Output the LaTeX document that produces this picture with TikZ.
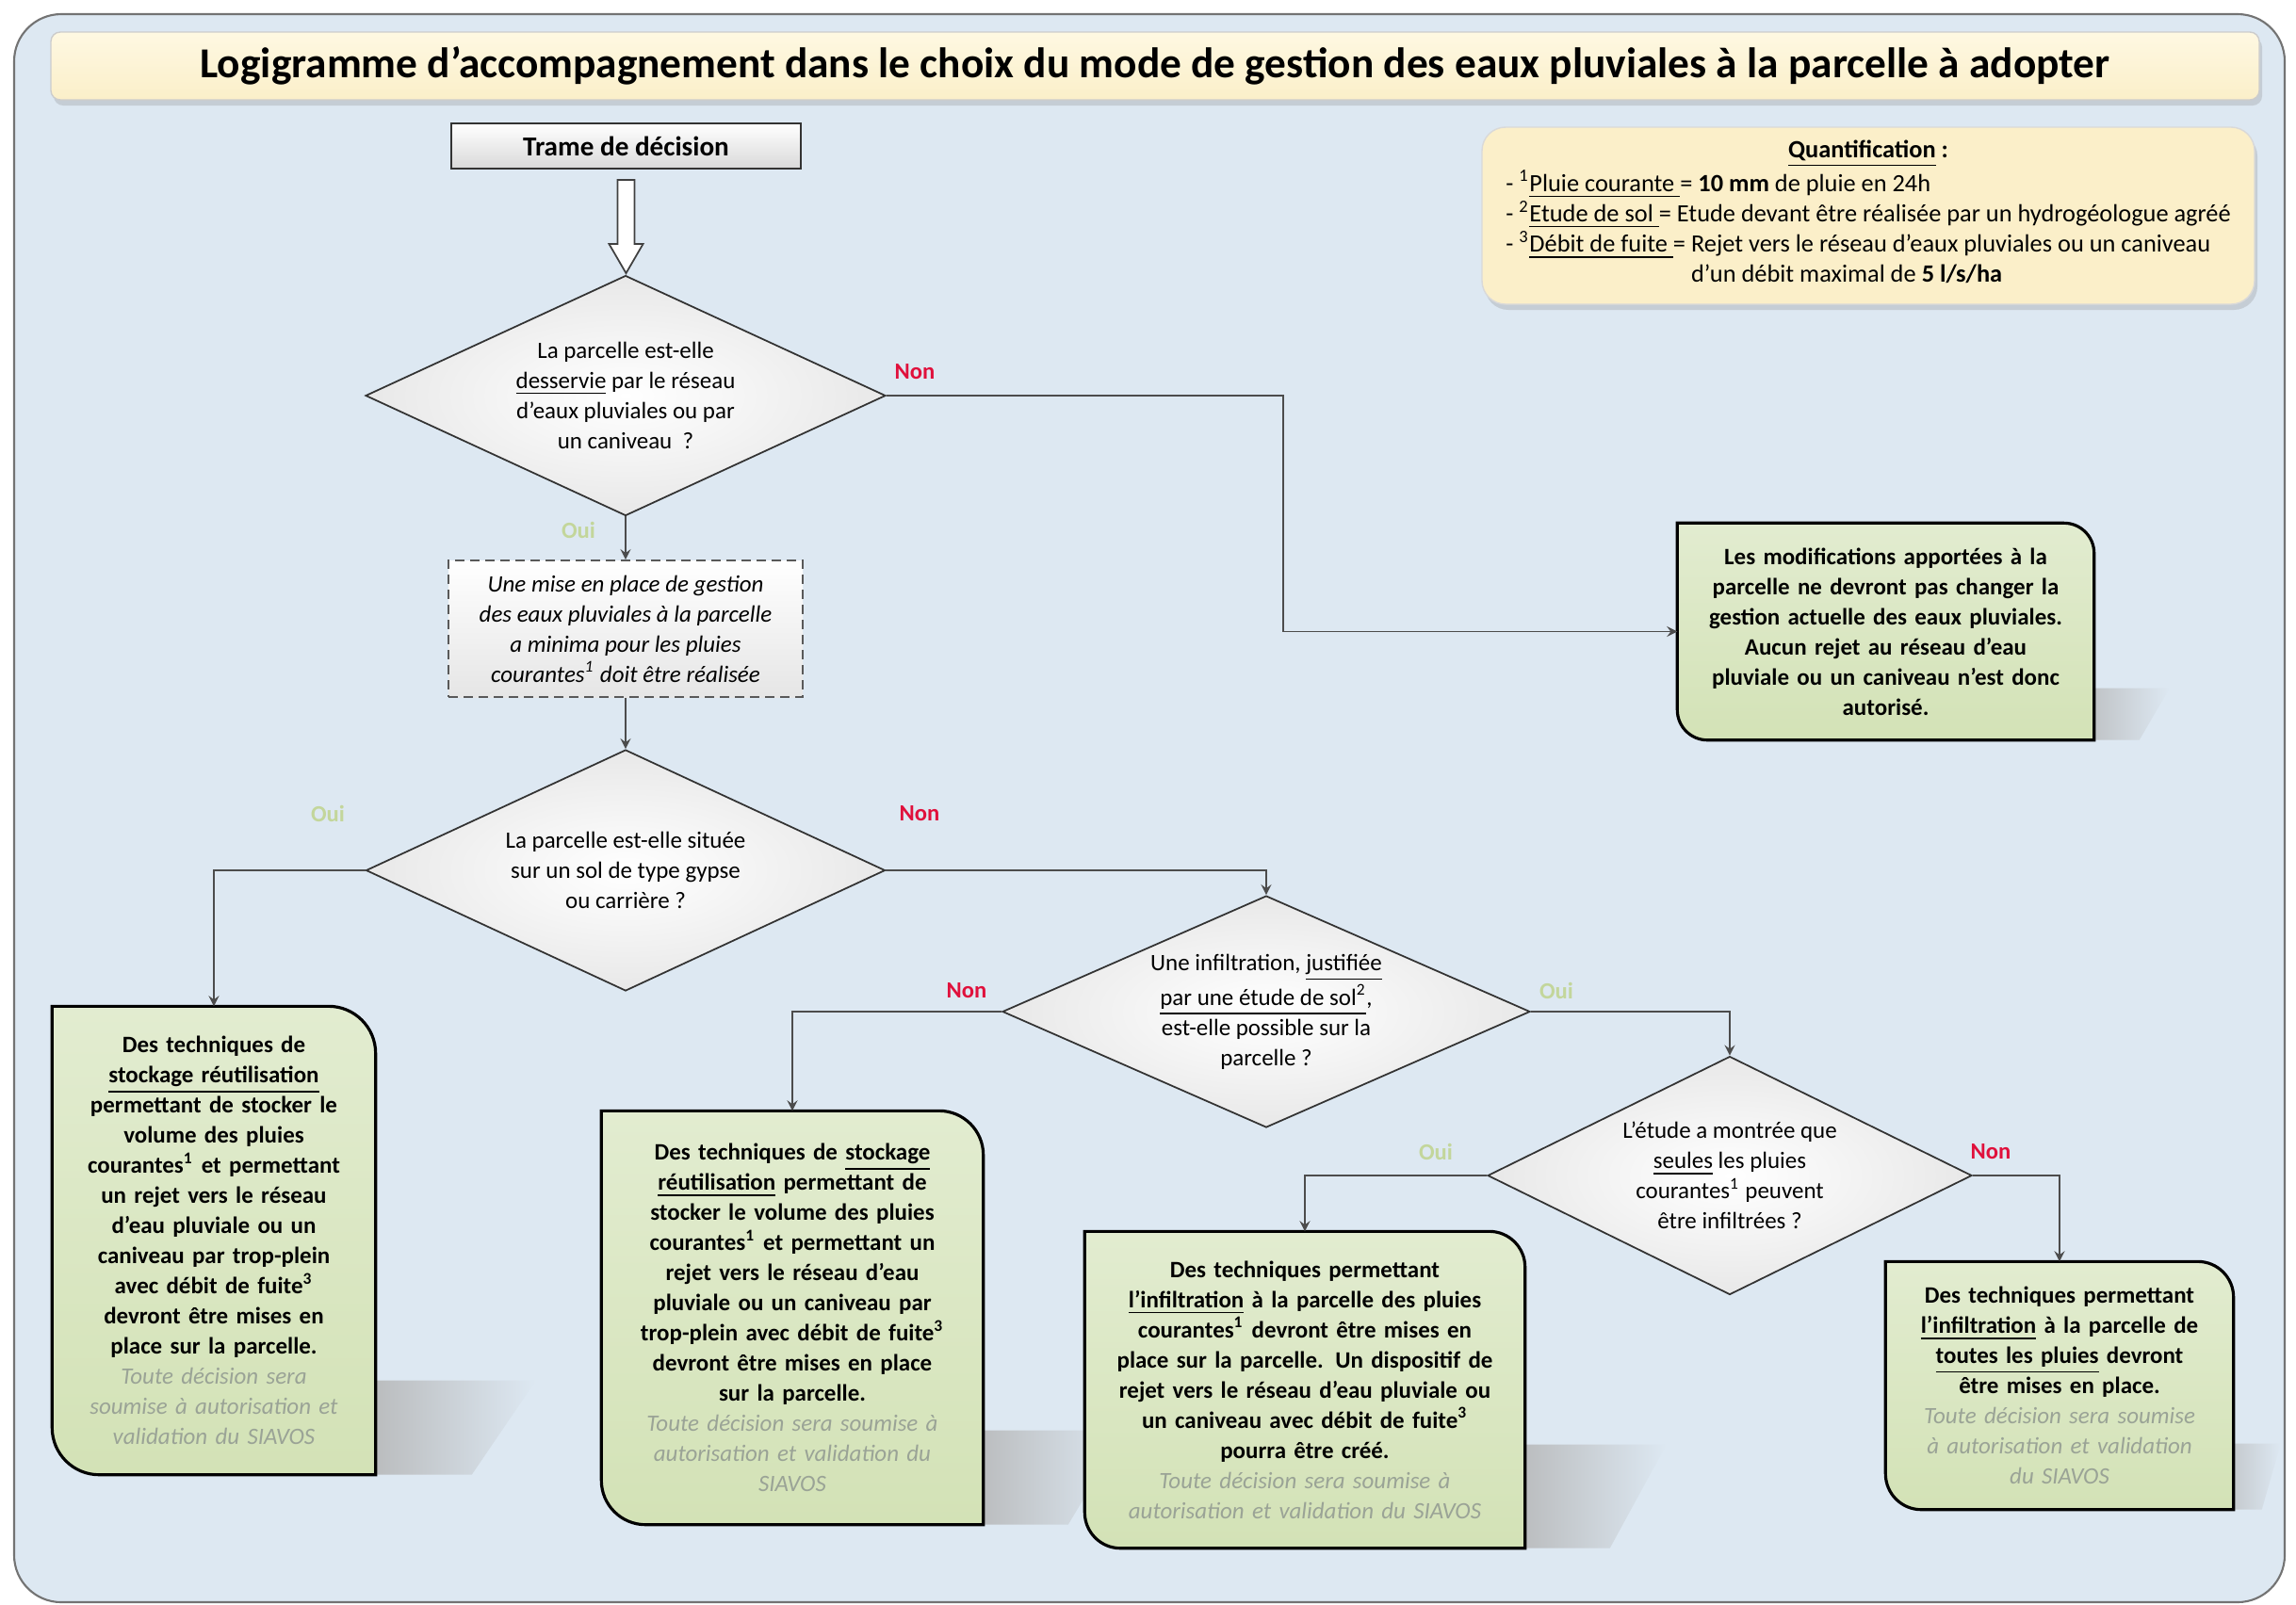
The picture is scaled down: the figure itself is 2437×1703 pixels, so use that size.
\documentclass[tikz,border=0pt]{standalone}
\usepackage{fontspec}
\setmainfont{Carlito}
\usetikzlibrary{shapes.geometric,shadows}
\pgfdeclarelayer{bg}
\pgfsetlayers{bg,main}
\definecolor{fond}{HTML}{DDE8F2}
\definecolor{jaune}{HTML}{FBEFC9}
\definecolor{jauneclair}{HTML}{FEF8E2}
\definecolor{vert}{HTML}{D3E2B6}
\definecolor{vertclair}{HTML}{E2ECD0}
\definecolor{ouivert}{HTML}{C3D69B}
\definecolor{nonrouge}{HTML}{E0103C}
\definecolor{grisvert}{HTML}{9AA396}
\newcommand\expo[1]{\textsuperscript{#1}}
\newcommand\avis{\color{grisvert}\mdseries\itshape}

\begin{document}
\begin{tikzpicture}[x=0.1mm,y=-0.1mm,>=stealth,
    losange/.style={diamond,draw=black!80,line width=.5pt,inner sep=0pt,aspect=2,align=center,
      font=\fontsize{7.1}{9.1}\selectfont,inner color=white,outer color=black!9},
    vertbox/.style={align=center,inner sep=0pt,font=\fontsize{7.1}{9.1}\selectfont\bfseries},
    lien/.style={->,draw=black!70,line width=.4pt},
    non/.style={font=\fontsize{7}{8}\selectfont\bfseries,text=nonrouge},
    oui/.style={font=\fontsize{7}{8}\selectfont\bfseries,text=ouivert},
    cadre/.style={draw=black,line width=.9pt,top color=vertclair,bottom color=vert},
    ombre/.style={drop shadow={shadow xshift=.3mm,shadow yshift=-.6mm,opacity=.25}}]
  \useasboundingbox (0,0) rectangle (2437,1703);
  \begin{pgfonlayer}{bg}
    \fill[white] (0,0) rectangle (2437,1703);
    \draw[fill=fond,draw=black!55,line width=.6pt,rounded corners=5mm] (15,15) rectangle (2425,1701);
  \end{pgfonlayer}

  % en-tete
  \node[font=\fontsize{12.9}{15}\selectfont\bfseries,minimum width=234.4mm,minimum height=7.2mm,
    rounded corners=1mm,draw=black!20,top color=jauneclair,bottom color=jaune,ombre] (titre) at (1226,70)
    {Logigramme d’accompagnement dans le choix du mode de gestion des eaux pluviales à la parcelle à adopter};
  \node[font=\fontsize{8.3}{10}\selectfont\bfseries,draw=black!80,line width=.6pt,minimum width=37.1mm,
    minimum height=4.8mm,top color=white,bottom color=black!15] (trame) at (664.5,155) {Trame de décision};
  \node[font=\fontsize{7.5}{9}\selectfont,align=center,minimum width=82mm,minimum height=18.8mm,
    rounded corners=2.5mm,fill=jaune,draw=black!15,ombre] (quantif) at (1983,229)
    {\textbf{\underline{Quantification} :}\\
     \begin{tabular}{@{}l@{}}
     - \expo{1}\underline{Pluie courante }= \textbf{10 mm} de pluie en 24h\\
     - \expo{2}\underline{Etude de sol }= Etude devant être réalisée par un hydrogéologue agréé\\
     - \expo{3}\underline{Débit de fuite }= Rejet vers le réseau d’eaux pluviales ou un caniveau\\
     \phantom{- \expo{3}Débit de fuite = }d’un débit maximal de \textbf{5 l/s/ha}
     \end{tabular}};
  \draw[fill=white,draw=black!75,line width=.5pt] (trame.south) ++(-9,11) -- ++(0,68) -- ++(-9,0)
    -- ++(18,31) -- ++(18,-31) -- ++(-9,0) -- ++(0,-68) -- cycle;

  % questions
  \node[losange,minimum width=55.2mm,minimum height=25.5mm] (d1) at (664,420)
    {La parcelle est-elle\\\underline{desservie} par le réseau\\d’eaux pluviales ou par\\un caniveau~ ?};
  \node[font=\fontsize{7.1}{9.1}\selectfont\itshape,align=center,draw=black!65,dash pattern=on 1mm off .6mm,
    line width=.5pt,minimum width=37.6mm,minimum height=14.5mm,top color=white,bottom color=black!10] (mise) at (664,667.5)
    {Une mise en place de gestion\\des eaux pluviales à la parcelle\\a minima pour les pluies\\courantes\expo{1} doit être réalisée};
  \node[losange,minimum width=55.1mm,minimum height=25.6mm] (d2) at (664,924)
    {La parcelle est-elle située\\sur un sol de type gypse\\ou carrière ?};
  \node[losange,minimum width=56mm,minimum height=24.6mm] (d3) at (1344,1074)
    {Une infiltration, \underline{justifiée}\\\underline{par une étude de sol\expo{2}},\\est-elle possible sur la\\parcelle ?};
  \node[losange,minimum width=51.4mm,minimum height=25.3mm] (d4) at (1836,1248)
    {L’étude a montrée que\\\underline{seules} les pluies\\courantes\expo{1} peuvent\\être infiltrées ?};

  % conclusions
  \node[vertbox,text width=40mm,minimum width=44.1mm,minimum height=22.9mm] (g3) at (2001.5,670.5)
    {Les modifications apportées à la\\parcelle ne devront pas changer la\\gestion actuelle des eaux pluviales.\\
     Aucun rejet au réseau d’eau\\pluviale ou un caniveau n’est donc\\autorisé.};
  \node[vertbox,text width=32mm,minimum width=34.2mm,minimum height=49.6mm] (g1) at (227,1317)
    {Des techniques de\\\underline{stockage réutilisation}\\permettant de stocker le\\volume des pluies\\
     courantes\expo{1} et permettant\\un rejet vers le réseau\\d’eau pluviale ou un\\caniveau par trop-plein\\
     avec débit de fuite\expo{3}\\devront être mises en\\place sur la parcelle.\\
     {\avis Toute décision sera\\soumise à autorisation et\\validation du SIAVOS}};
  \node[vertbox,text width=38mm,minimum width=40.4mm,minimum height=43.8mm] (g2) at (841,1399)
    {Des techniques de \underline{stockage}\\\underline{réutilisation} permettant de\\stocker le volume des pluies\\
     courantes\expo{1} et permettant un\\rejet vers le réseau d’eau\\pluviale ou un caniveau par\\
     trop-plein avec débit de fuite\expo{3}\\devront être mises en place\\sur la parcelle.\\
     {\avis Toute décision sera soumise à\\autorisation et validation du\\SIAVOS}};
  \node[vertbox,text width=44.5mm,minimum width=46.6mm,minimum height=33.5mm] (g4) at (1385,1475.5)
    {Des techniques permettant\\\underline{l’infiltration} à la parcelle des pluies\\courantes\expo{1} devront être mises en\\
     place sur la parcelle. Un dispositif de\\rejet vers le réseau d’eau pluviale ou\\un caniveau avec débit de fuite\expo{3}\\
     pourra être créé.\\{\avis Toute décision sera soumise à\\autorisation et validation du SIAVOS}};
  \node[vertbox,text width=35mm,minimum width=36.8mm,minimum height=26.2mm] (g5) at (2186,1471)
    {Des techniques permettant\\\underline{l’infiltration} à la parcelle de\\\underline{toutes les pluies} devront\\
     être mises en place.\\{\avis Toute décision sera soumise\\à autorisation et validation\\du SIAVOS}};

  \begin{pgfonlayer}{bg}
    \foreach \b/\h/\e in {g1/100/170,g2/100/150,g3/55/80,g4/110/150,g5/70/50}
      \shade[left color=black!30,right color=fond] (\b.south east) ++(-40,0) -- ++(40,-\h) -- ++(\e,0)
        -- ++({-0.4*\e},\h) -- cycle;
    \foreach \b/\r in {g1/5mm,g2/4.7mm,g3/3.2mm,g4/3.8mm,g5/3.8mm}
      \draw[cadre] (\b.west) -- (\b.north west) [rounded corners=\r] -- (\b.north east) [sharp corners]
        -- (\b.south east) [rounded corners=\r] -- (\b.south west) [sharp corners] -- cycle;
  \end{pgfonlayer}

  % liens
  \draw[lien] (d1.east) -- ++(421,0) |- (g3.west);
  \draw[lien] (d1.south) -- (mise.north);
  \draw[lien] (mise.south) -- (d2.north);
  \draw[lien] (d2.west) -| (g1.north);
  \draw[lien] (d2.east) -| (d3.north);
  \draw[lien] (d3.west) -| (g2.north);
  \draw[lien] (d3.east) -| (d4.north);
  \draw[lien] (d4.west) -| (g4.north);
  \draw[lien] (d4.east) -| (g5.north);

  \node[non] (n1) at (971,395) {Non};
  \node[oui] (o1) at (614,563) {Oui};
  \node[oui] (o2) at (348,864) {Oui};
  \node[non] (n2) at (976,864) {Non};
  \node[non] (n3) at (1026,1052) {Non};
  \node[oui] (o3) at (1652,1052) {Oui};
  \node[oui] (o4) at (1524,1223) {Oui};
  \node[non] (n4) at (2113,1223) {Non};
\end{tikzpicture}
\end{document}
